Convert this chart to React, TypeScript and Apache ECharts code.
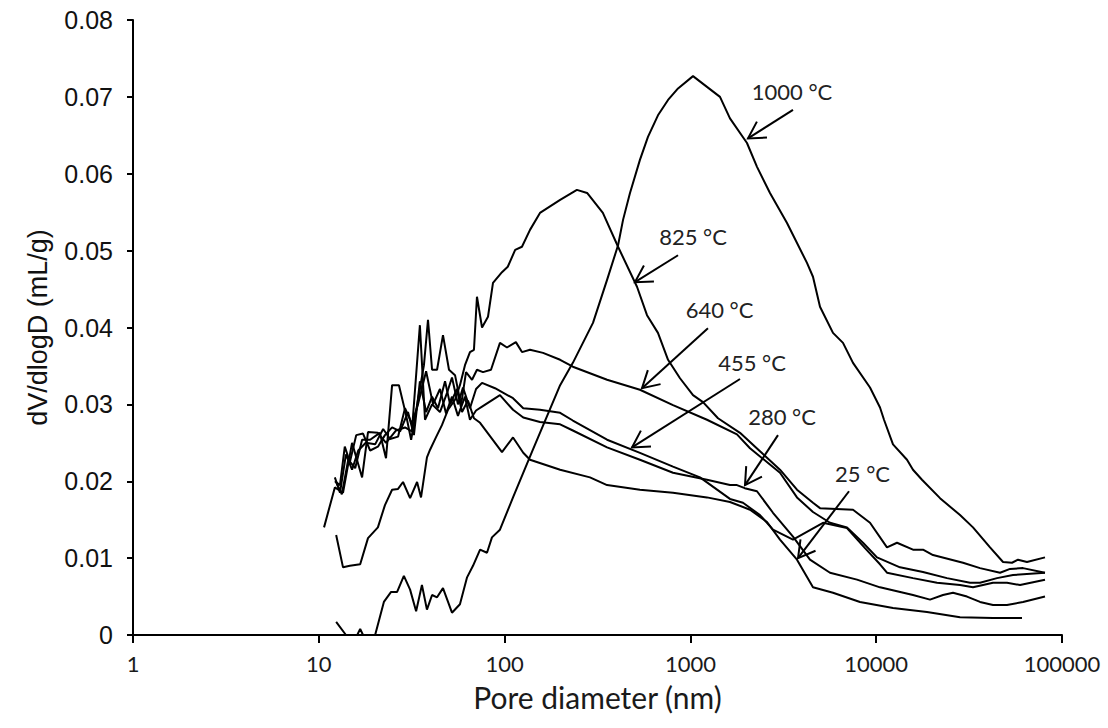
import React, { useEffect, useRef } from "react";
import * as echarts from "echarts";

// Pore diameter (nm), dV/dlogD (mL/g)
const s1000: [number, number][] = [
  [12.4, 0.0017], [14.0, 0], [16.1, 0], [16.7, 0.0008], [17.3, 0], [20.1, 0], [22.4, 0.0043], [24.5, 0.0056],
  [26.4, 0.0056], [28.7, 0.0077], [31.0, 0.0059], [33.4, 0.0031], [35.9, 0.0065], [38.2, 0.0033], [40.7, 0.0052],
  [43.3, 0.0049], [46.6, 0.0061], [52.1, 0.0029], [57.5, 0.004], [62.8, 0.0075], [67.6, 0.009], [73.8, 0.0111],
  [80.4, 0.0107], [85.5, 0.0127], [94.4, 0.0137], [111, 0.0179], [142, 0.0241], [199, 0.0325], [233, 0.0354],
  [299, 0.0406], [356, 0.0462], [408, 0.0507], [434, 0.054], [473, 0.0575], [535, 0.0618], [591, 0.0648],
  [669, 0.0676], [758, 0.0696], [858, 0.0711], [1033, 0.0727], [1228, 0.0713], [1443, 0.07], [1633, 0.0672],
  [2016, 0.064], [2283, 0.0609], [2681, 0.0575], [3311, 0.0536], [4241, 0.0484], [4568, 0.0466], [4983, 0.0427],
  [5854, 0.0393], [6627, 0.038], [7502, 0.0354], [9261, 0.0322], [10483, 0.0296], [11016, 0.028], [12314, 0.0248],
  [14648, 0.0228], [15776, 0.0215], [17637, 0.0202], [22054, 0.0178], [28260, 0.0156], [33190, 0.014],
  [40990, 0.0114], [48150, 0.0095], [53810, 0.0094], [57990, 0.0098], [64790, 0.0095], [81000, 0.0101],
];

const s825: [number, number][] = [
  [12.4, 0.013], [13.5, 0.0088], [14.7, 0.009], [16.7, 0.0092], [18.4, 0.0126], [20.8, 0.014], [22.7, 0.0169],
  [24.8, 0.0189], [26.7, 0.019], [28.4, 0.0199], [31.0, 0.0178], [33.8, 0.0199], [35.5, 0.0179], [38.2, 0.0231],
  [39.7, 0.0241], [42.7, 0.0257], [46.0, 0.0273], [49.6, 0.0293], [54.1, 0.0306], [57.5, 0.0325], [61.2, 0.0351],
  [65.1, 0.0368], [68.4, 0.0371], [71.0, 0.044], [75.6, 0.04], [81.4, 0.0414], [86.6, 0.0458], [96.8, 0.0472],
  [104, 0.0479], [114, 0.0501], [124, 0.0505], [137, 0.0527], [155, 0.0549], [199, 0.0566], [245, 0.0579],
  [278, 0.0575], [338, 0.0549], [408, 0.0505], [516, 0.0453], [584, 0.0416], [669, 0.0393], [758, 0.0358],
  [879, 0.0334], [1033, 0.0312], [1169, 0.0303], [1408, 0.0282], [1849, 0.0263], [2369, 0.0239], [3035, 0.0215],
  [3747, 0.0189], [4568, 0.0172], [4983, 0.0165], [7502, 0.0163], [9261, 0.0146], [11430, 0.0114],
  [12940, 0.012], [15776, 0.0111], [17860, 0.0111], [20220, 0.0104], [29320, 0.0094], [36211, 0.0087],
  [46400, 0.0081], [52522, 0.0086], [61680, 0.0087], [81000, 0.0081],
];

const s640: [number, number][] = [
  [12.4, 0.0199], [13.3, 0.0183], [14.4, 0.0228], [15.7, 0.0217], [17.1, 0.0254], [18.9, 0.0254], [21.3, 0.0263],
  [23.0, 0.023], [24.8, 0.0325], [27.0, 0.0325], [29.5, 0.0286], [31.4, 0.0254], [34.2, 0.0306], [36.8, 0.0351],
  [38.7, 0.041], [40.7, 0.0345], [43.3, 0.0345], [46.6, 0.039], [50.2, 0.0345], [54.1, 0.0338], [58.3, 0.0299],
  [62.0, 0.0342], [66.8, 0.0332], [71.0, 0.0345], [76.5, 0.0342], [84.5, 0.0345], [94.4, 0.038], [103, 0.0374],
  [115, 0.0381], [124, 0.0368], [137, 0.0371], [161, 0.0367], [199, 0.0358], [233, 0.0349], [356, 0.0332],
  [535, 0.0319], [806, 0.0299], [1228, 0.028], [1781, 0.0261], [2093, 0.0243], [3035, 0.0211], [3747, 0.0179],
  [4568, 0.016], [5641, 0.0146], [6962, 0.014], [8492, 0.012], [10100, 0.0101], [13430, 0.0088], [17860, 0.0082],
  [24050, 0.0074], [31990, 0.0068], [36211, 0.0068], [44700, 0.0074], [54500, 0.0078], [81000, 0.0081],
];

const s455: [number, number][] = [
  [10.67, 0.014], [12.2, 0.0192], [13.5, 0.0185], [15.1, 0.025], [17.1, 0.0205], [18.4, 0.0264], [20.8, 0.0263],
  [23.0, 0.025], [26.0, 0.0266], [29.1, 0.027], [31.7, 0.0265], [35.0, 0.0403], [37.3, 0.028], [40.7, 0.03],
  [44.9, 0.029], [49.0, 0.0315], [52.1, 0.0335], [56.1, 0.03], [59.7, 0.0322], [65.1, 0.0295], [70.2, 0.032],
  [75.6, 0.0328], [88.8, 0.0321], [111, 0.0308], [126, 0.0295], [155, 0.0293], [199, 0.0289], [233, 0.0279],
  [356, 0.0254], [535, 0.0237], [806, 0.0219], [1126, 0.0205], [1633, 0.0177], [1919, 0.0172], [2369, 0.0156],
  [2783, 0.0137], [3566, 0.0124], [5172, 0.0146], [6962, 0.0139], [8702, 0.0113], [10483, 0.0092],
  [11430, 0.0081], [15776, 0.0074], [21250, 0.0068], [28260, 0.0065], [33190, 0.0062], [42520, 0.0068],
  [50580, 0.0068], [59453, 0.0065], [81000, 0.0072],
];

const s280: [number, number][] = [
  [12.2, 0.0205], [13.0, 0.0185], [14.0, 0.0235], [15.1, 0.0215], [16.3, 0.024], [17.9, 0.025], [20.1, 0.0248],
  [22.2, 0.0268], [24.2, 0.0255], [26.7, 0.0258], [29.1, 0.0295], [31.7, 0.0275], [34.2, 0.03], [37.8, 0.0343],
  [41.2, 0.03], [44.9, 0.032], [48.4, 0.0288], [52.1, 0.031], [56.1, 0.0285], [61.2, 0.031], [65.1, 0.028],
  [70.2, 0.0292], [75.6, 0.0297], [94.4, 0.0312], [111, 0.0293], [126, 0.0283], [155, 0.0277], [199, 0.0274],
  [233, 0.0266], [356, 0.0244], [535, 0.0228], [806, 0.0211], [1228, 0.0202], [1633, 0.0195], [1781, 0.0195],
  [1961, 0.0191], [2282, 0.0187], [2783, 0.0159], [3566, 0.0128], [4401, 0.0098], [5641, 0.0081],
  [7882, 0.0072], [10483, 0.0062], [15776, 0.0052], [19483, 0.0046], [22880, 0.0052], [25900, 0.0055],
  [30810, 0.005], [36211, 0.0043], [42520, 0.0039], [50580, 0.0039], [61680, 0.0043], [81000, 0.005],
];

const s25: [number, number][] = [
  [12.2, 0.02], [13.0, 0.0195], [13.8, 0.0245], [14.7, 0.0225], [15.9, 0.026], [17.3, 0.0262], [18.9, 0.024],
  [20.8, 0.0245], [22.7, 0.026], [24.8, 0.027], [27.4, 0.0265], [30.2, 0.029], [32.5, 0.026], [35.0, 0.033],
  [37.8, 0.029], [40.7, 0.031], [43.8, 0.0295], [47.8, 0.033], [50.9, 0.03], [55.4, 0.032], [59.0, 0.029],
  [63.5, 0.0305], [68.4, 0.0282], [73.8, 0.0276], [96.8, 0.0238], [111, 0.0257], [126, 0.0237], [137, 0.0228],
  [199, 0.0215], [288, 0.0205], [356, 0.0195], [535, 0.0189], [806, 0.0185], [1228, 0.0179], [1633, 0.0173],
  [2093, 0.0163], [2584, 0.0147], [3035, 0.0124], [3747, 0.0098], [4568, 0.0062], [5854, 0.0055],
  [8181, 0.0043], [12314, 0.0035], [18760, 0.003], [28260, 0.0023], [42520, 0.0022], [60910, 0.0022],
];

const seriesNames = ["25 °C", "280 °C", "455 °C", "640 °C", "825 °C", "1000 °C"];
const seriesData = [s25, s280, s455, s640, s825, s1000];

// annotation: label position, arrow start, arrow tip (data coords)
const annotations: { text: string; at: [number, number]; from: [number, number]; to: [number, number] }[] = [
  { text: "1000 °C", at: [3523, 0.0707], from: [3566, 0.0683], to: [2042, 0.0646] },
  { text: "825 °C", at: [1033, 0.0518], from: [858, 0.0494], to: [503, 0.0459] },
  { text: "640 °C", at: [1434, 0.0423], from: [1243, 0.0399], to: [549, 0.0321] },
  { text: "455 °C", at: [2146, 0.0355], from: [1849, 0.0333], to: [485, 0.0244] },
  { text: "280 °C", at: [3112, 0.0284], from: [2961, 0.026], to: [1967, 0.0195] },
  { text: "25 °C", at: [8440, 0.021], from: [7139, 0.0187], to: [3795, 0.01] },
];

const xMin = 1;
const xMax = 100000;
const yMin = 0;
const yMax = 0.08;
const yStep = 0.01;

export default function App() {
  const ref = useRef<HTMLDivElement>(null);
  useEffect(() => {
    if (!ref.current) return;
    const chart = echarts.init(ref.current, undefined, { renderer: "svg" });
    chart.setOption({
      animation: false,
      backgroundColor: "#ffffff",
      grid: { left: 133, right: 46, top: 20, bottom: 93, containLabel: false },
      xAxis: {
        type: "log",
        logBase: 10,
        min: xMin,
        max: xMax,
        name: "Pore diameter (nm)",
        nameLocation: "middle",
        nameGap: 47,
        nameTextStyle: { fontFamily: "Lato", fontSize: 30, color: "#1a1a1a" },
        axisLine: { lineStyle: { color: "#000", width: 2 } },
        axisTick: { show: true, length: 8, lineStyle: { color: "#000", width: 2 } },
        minorTick: { show: false },
        splitLine: { show: false },
        axisLabel: {
          fontFamily: "Lato",
          fontSize: 22,
          color: "#1a1a1a",
          margin: 17,
          formatter: (v: number) => String(Math.round(v)),
        },
      },
      yAxis: {
        type: "value",
        min: yMin,
        max: yMax,
        interval: yStep,
        name: "dV/dlogD (mL/g)",
        nameLocation: "middle",
        nameRotate: 90,
        nameGap: 82,
        nameTextStyle: { fontFamily: "Liberation Sans", fontSize: 27, color: "#111" },
        axisLine: { show: true, lineStyle: { color: "#000", width: 2 } },
        axisTick: { show: true, length: 6, lineStyle: { color: "#000", width: 2 } },
        splitLine: { show: false },
        axisLabel: {
          fontFamily: "Liberation Sans",
          fontSize: 25,
          color: "#111",
          margin: 20,
          formatter: (v: number) => (v === 0 ? "0" : v.toFixed(2)),
        },
      },
      series: seriesData.map((d, i) => ({
        name: seriesNames[i],
        type: "line",
        data: d,
        showSymbol: false,
        symbol: "none",
        lineStyle: { color: "#000", width: 2 },
        z: 3,
      })),
    });

    const els: any[] = [];
    for (const a of annotations) {
      const [tx, ty] = chart.convertToPixel({ gridIndex: 0 }, a.at) as number[];
      const [sx, sy] = chart.convertToPixel({ gridIndex: 0 }, a.from) as number[];
      const [ex, ey] = chart.convertToPixel({ gridIndex: 0 }, a.to) as number[];
      const ang = Math.atan2(sy - ey, sx - ex);
      const L = 19;
      const sp = 0.52;
      const p1 = [ex + L * Math.cos(ang + sp), ey + L * Math.sin(ang + sp)];
      const p2 = [ex + L * Math.cos(ang - sp), ey + L * Math.sin(ang - sp)];
      els.push({
        type: "line",
        shape: { x1: sx, y1: sy, x2: ex, y2: ey },
        style: { stroke: "#000", lineWidth: 2 },
        z: 10,
      });
      els.push({
        type: "polyline",
        shape: { points: [p1, [ex, ey], p2] },
        style: { stroke: "#000", lineWidth: 2, fill: "none" },
        z: 10,
      });
      els.push({
        type: "text",
        x: tx,
        y: ty,
        style: {
          text: a.text,
          fontFamily: "Lato",
          fontSize: 22,
          fill: "#222",
          align: "center",
          verticalAlign: "middle",
        },
        z: 10,
      });
    }
    chart.setOption({ graphic: els });

    return () => chart.dispose();
  }, []);
  return (
    <div
      ref={ref}
      style={{ position: "absolute", left: 0, top: 0, width: 1108, height: 728, background: "#fff" }}
    />
  );
}
